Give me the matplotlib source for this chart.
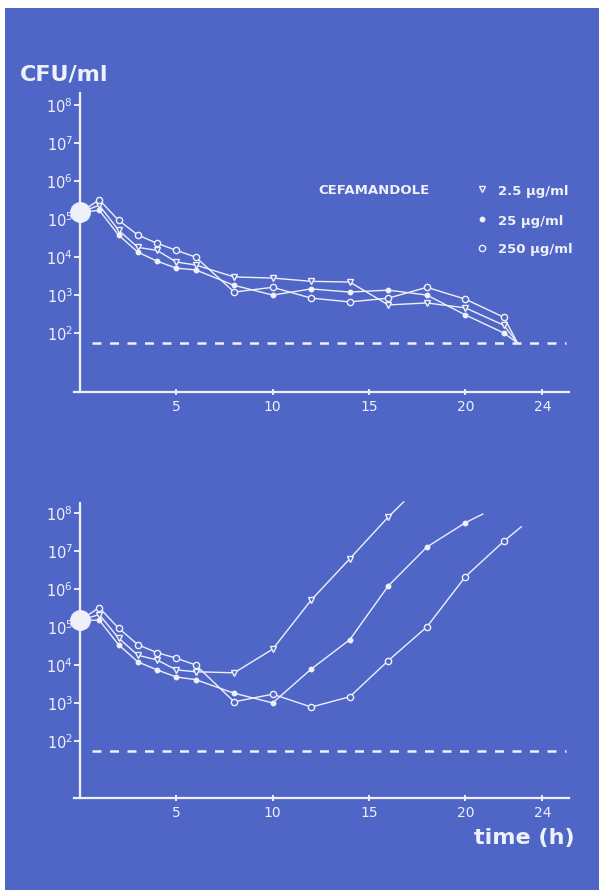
import math
import matplotlib
matplotlib.use("Agg")
import matplotlib.pyplot as plt
from matplotlib.patches import Rectangle
from matplotlib.ticker import FixedLocator, FuncFormatter

# colours
BLUE = "#5066c6"
WHITE = "#eef0fa"

# data (CFU/ml)
times_top = [0, 1, 2, 3, 4, 5, 6, 8, 10, 12, 14, 16, 18, 20, 22, 22.7]
tri_top = [1.5e5, 2.3e5, 5.1e4, 1.8e4, 1.5e4, 7.4e3, 6.2e3, 3.0e3, 2.8e3, 2.3e3, 2.2e3, 550, 620, 460, 160, 55]
fil_top = [1.5e5, 1.7e5, 3.8e4, 1.35e4, 7.8e3, 5.1e3, 4.6e3, 1.8e3, 1.0e3, 1.45e3, 1.2e3, 1.35e3, 1.0e3, 300, 100, 55]
cir_top = [1.5e5, 3.2e5, 9.3e4, 3.8e4, 2.3e4, 1.5e4, 1.0e4, 1.2e3, 1.6e3, 830, 660, 830, 1.6e3, 780, 260, 55]

t_tri_bot = [0, 1, 2, 3, 4, 5, 6, 8, 10, 12, 14, 16, 16.8]
tri_bot = [1.5e5, 2.1e5, 5.1e4, 1.8e4, 1.35e4, 7.4e3, 6.6e3, 6.2e3, 2.6e4, 5.1e5, 6.2e6, 7.8e7, 1.95e8]
t_fil_bot = [0, 1, 2, 3, 4, 5, 6, 8, 10, 12, 14, 16, 18, 20, 20.9]
fil_bot = [1.5e5, 1.5e5, 3.4e4, 1.2e4, 7.4e3, 4.8e3, 4.1e3, 1.8e3, 1.0e3, 7.8e3, 4.6e4, 1.2e6, 1.26e7, 5.5e7, 9.3e7]
t_cir_bot = [0, 1, 2, 3, 4, 5, 6, 8, 10, 12, 14, 16, 18, 20, 22, 22.9]
cir_bot = [1.5e5, 3.2e5, 9.3e4, 3.4e4, 2.1e4, 1.5e4, 1.0e4, 1.07e3, 1.7e3, 780, 1.45e3, 1.3e4, 1e5, 2.1e6, 1.8e7, 4.3e7]

inoculum = 1.5e5
detect_limit = 55
dash_span = [0.6, 25.2]
xticks = [5, 10, 15, 20, 24]
yticks = [1e2, 1e3, 1e4, 1e5, 1e6, 1e7, 1e8]
legend_labels = ["2.5 µg/ml", "25 µg/ml", "250 µg/ml"]

W, H = 599, 890
fig = plt.figure(figsize=(W / 100, H / 100), dpi=100, facecolor="white")
fig.patches.append(Rectangle((5 / W, 0), 1 - 5 / W, 1 - 8 / H, transform=fig.transFigure,
                             facecolor=BLUE, edgecolor="none", zorder=-10))


def fx(px):
    return px / W


def fy(py):
    return 1 - py / H


styles = [
    dict(marker="v", markerfacecolor=BLUE, markeredgecolor=WHITE, markersize=4),
    dict(marker="o", markerfacecolor=WHITE, markeredgecolor=WHITE, markersize=3.2),
    dict(marker="o", markerfacecolor=BLUE, markeredgecolor=WHITE, markersize=4.5),
]


def setup(ax, ylo, yhi):
    ax.set_facecolor("none")
    ax.set_yscale("log")
    ax.set_xlim(-0.3, 25.4)
    ax.set_ylim(ylo, yhi)
    for s in ["top", "right"]:
        ax.spines[s].set_visible(False)
    ax.spines["left"].set_position(("data", 0))
    for s in ["left", "bottom"]:
        ax.spines[s].set_color(WHITE)
        ax.spines[s].set_linewidth(1.6)
    ax.yaxis.set_major_locator(FixedLocator(yticks))
    ax.yaxis.set_minor_locator(FixedLocator([]))
    ax.yaxis.set_major_formatter(FuncFormatter(lambda v, p: r"$10^{%d}$" % round(math.log10(v))))
    ax.set_xticks(xticks)
    ax.tick_params(axis="y", colors=WHITE, direction="out", length=4, width=1.4, labelsize=10.5, pad=1)
    ax.tick_params(axis="x", colors=WHITE, direction="inout", length=5, width=1.4, labelsize=10, pad=3)
    ax.plot(dash_span, [detect_limit, detect_limit], color=WHITE, lw=1.8, dashes=(3.6, 3.4),
            solid_capstyle="butt")


def draw(ax, series):
    for (t, v), st in zip(series, styles):
        ax.plot(t, v, color=WHITE, lw=1.0, markevery=slice(1, len(t) - 1), clip_on=False, **st)
    ax.plot([0], [inoculum], "o", color=WHITE, markersize=14, clip_on=False, zorder=5)


ax1 = fig.add_axes([0.1239, 0.5596, 0.8268, 0.336])
setup(ax1, 10 ** 0.45, 10 ** 8.32)
draw(ax1, [(times_top, tri_top), (times_top, fil_top), (times_top, cir_top)])

ax2 = fig.add_axes([0.1239, 0.1034, 0.8268, 0.3315])
setup(ax2, 10 ** 0.5, 10 ** 8.26)
draw(ax2, [(t_tri_bot, tri_bot), (t_fil_bot, fil_bot), (t_cir_bot, cir_bot)])

# legend
fig.text(fx(318), fy(190), "CEFAMANDOLE", color=WHITE, fontsize=9.5, fontweight="bold",
         va="center", ha="left")
for i, (lab, st) in enumerate(zip(legend_labels, styles)):
    y = [189, 219, 248][i]
    ax1.plot([fx(482)], [fy(y)], transform=fig.transFigure, clip_on=False, **st)
    fig.text(fx(498), fy(y + 2), lab, color=WHITE, fontsize=9.5, fontweight="bold",
             va="center", ha="left")

fig.text(fx(20), fy(74), "CFU/ml", color=WHITE, fontsize=16, fontweight="bold", va="center", ha="left")
fig.text(fx(575), fy(838), "time (h)", color=WHITE, fontsize=16, fontweight="bold", va="center", ha="right")

fig.savefig("out.png", dpi=100, facecolor="white")
